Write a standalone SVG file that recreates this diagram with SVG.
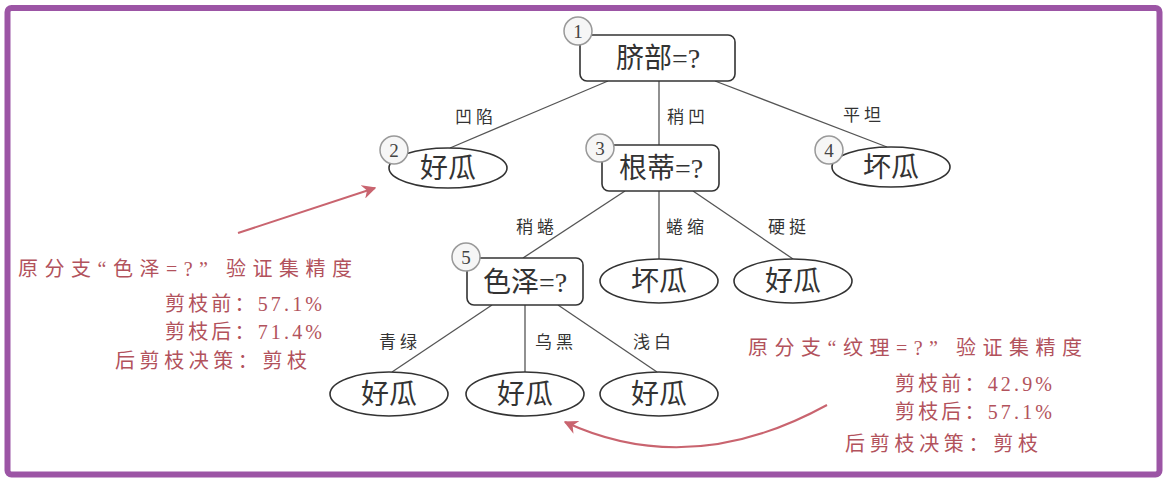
<svg xmlns="http://www.w3.org/2000/svg" width="1164" height="483" viewBox="0 0 1164 483">
<defs>
<style>
.frame{fill:#fff;stroke:#9c55a5;stroke-width:6}
.box{fill:#fff;stroke:#333;stroke-width:1.6}
.leaf{fill:#fff;stroke:#333;stroke-width:1.6}
.edge{stroke:#555;stroke-width:1.3;fill:none}
.num{fill:#f6f6f6;stroke:#999;stroke-width:1.5}
.numt{font-family:"Liberation Serif","Noto Sans CJK SC",serif;font-size:19px;fill:#444;text-anchor:middle}
.nt{font-family:"Liberation Serif","Noto Sans CJK SC",serif;font-size:28px;fill:#333;text-anchor:middle}
.lbl{font-family:"Noto Sans CJK SC",sans-serif;font-size:17px;fill:#333;text-anchor:middle;letter-spacing:4px}
.red{font-family:"Liberation Serif","Noto Sans CJK SC",serif;font-size:20px;fill:#b2525c}
.arr{stroke:#c9646f;stroke-width:2;fill:none}
</style>
<marker id="ah2" viewBox="0 0 10 10" refX="9" refY="5" markerWidth="14" markerHeight="14" markerUnits="userSpaceOnUse" orient="auto">
<path d="M0,0 L10,5 L0,10 L3,5 Z" fill="#c9646f"/>
</marker>
</defs>
<rect class="frame" x="7.5" y="8" width="1152" height="466.5" rx="4"/>

<g id="connectors">
<line class="edge" x1="608" y1="81" x2="450" y2="148"/>
<line class="edge" x1="659" y1="81" x2="659" y2="145"/>
<line class="edge" x1="715" y1="81" x2="887" y2="147"/>
<line class="edge" x1="625" y1="191" x2="523" y2="258"/>
<line class="edge" x1="659" y1="191" x2="659" y2="259"/>
<line class="edge" x1="693" y1="191" x2="793" y2="259"/>
<line class="edge" x1="492" y1="305" x2="392" y2="372"/>
<line class="edge" x1="525" y1="305" x2="525" y2="372"/>
<line class="edge" x1="558" y1="305" x2="657" y2="372"/>
<text class="lbl" x="476" y="123">凹陷</text>
<text class="lbl" x="688" y="123">稍凹</text>
<text class="lbl" x="864" y="121">平坦</text>
<text class="lbl" x="537" y="233">稍蜷</text>
<text class="lbl" x="687" y="233">蜷缩</text>
<text class="lbl" x="789" y="233">硬挺</text>
<text class="lbl" x="400" y="348">青绿</text>
<text class="lbl" x="556" y="348">乌黑</text>
<text class="lbl" x="654" y="348">浅白</text>
</g>

<g id="node1">
<rect class="box" x="580" y="35" width="155" height="46" rx="7"/>
<text class="nt" x="658" y="68">脐部=?</text>
<circle class="num" cx="578" cy="31" r="14"/>
<text class="numt" x="578" y="38">1</text>
</g>
<g id="node2">
<ellipse class="leaf" cx="448" cy="168" rx="59" ry="20"/>
<text class="nt" x="448" y="178">好瓜</text>
<circle class="num" cx="394" cy="150" r="14"/>
<text class="numt" x="394" y="157">2</text>
</g>
<g id="node3">
<rect class="box" x="602" y="145" width="117" height="46" rx="7"/>
<text class="nt" x="661" y="178">根蒂=?</text>
<circle class="num" cx="600" cy="148" r="14"/>
<text class="numt" x="600" y="155">3</text>
</g>
<g id="node4">
<ellipse class="leaf" cx="891" cy="167" rx="59" ry="20"/>
<text class="nt" x="891" y="177">坏瓜</text>
<circle class="num" cx="829" cy="150" r="14"/>
<text class="numt" x="829" y="157">4</text>
</g>
<g id="node5">
<rect class="box" x="467" y="258" width="116" height="47" rx="7"/>
<text class="nt" x="525" y="292">色泽=?</text>
<circle class="num" cx="466" cy="257" r="14"/>
<text class="numt" x="466" y="264">5</text>
</g>
<g id="leaf-3b">
<ellipse class="leaf" cx="659" cy="281" rx="59" ry="22"/>
<text class="nt" x="659" y="291">坏瓜</text>
</g>
<g id="leaf-3c">
<ellipse class="leaf" cx="793" cy="281" rx="59" ry="22"/>
<text class="nt" x="793" y="291">好瓜</text>
</g>
<g id="leaf-5a">
<ellipse class="leaf" cx="389" cy="394" rx="59" ry="22"/>
<text class="nt" x="389" y="404">好瓜</text>
</g>
<g id="leaf-5b">
<ellipse class="leaf" cx="525" cy="394" rx="59" ry="22"/>
<text class="nt" x="525" y="404">好瓜</text>
</g>
<g id="leaf-5c">
<ellipse class="leaf" cx="659" cy="394" rx="59" ry="22"/>
<text class="nt" x="659" y="404">好瓜</text>
</g>

<g id="note-left">
<text class="red" x="18" y="276" textLength="334" lengthAdjust="spacing">原分支“色泽=?”  验证集精度</text>
<text class="red" x="165" y="311" textLength="157" lengthAdjust="spacing">剪枝前：57.1%</text>
<text class="red" x="165" y="339" textLength="157" lengthAdjust="spacing">剪枝后：71.4%</text>
<text class="red" x="115" y="368" textLength="192" lengthAdjust="spacing">后剪枝决策：剪枝</text>
</g>
<g id="note-right">
<text class="red" x="748" y="355" textLength="334" lengthAdjust="spacing">原分支“纹理=?”  验证集精度</text>
<text class="red" x="895" y="391" textLength="157" lengthAdjust="spacing">剪枝前：42.9%</text>
<text class="red" x="895" y="419" textLength="157" lengthAdjust="spacing">剪枝后：57.1%</text>
<text class="red" x="845" y="451" textLength="193" lengthAdjust="spacing">后剪枝决策：剪枝</text>
</g>
<g id="arrows">
<line class="arr" x1="238" y1="233" x2="375" y2="188" marker-end="url(#ah2)"/>
<path class="arr" d="M827,405 Q690,480 565,422" marker-end="url(#ah2)"/>
</g>
</svg>
